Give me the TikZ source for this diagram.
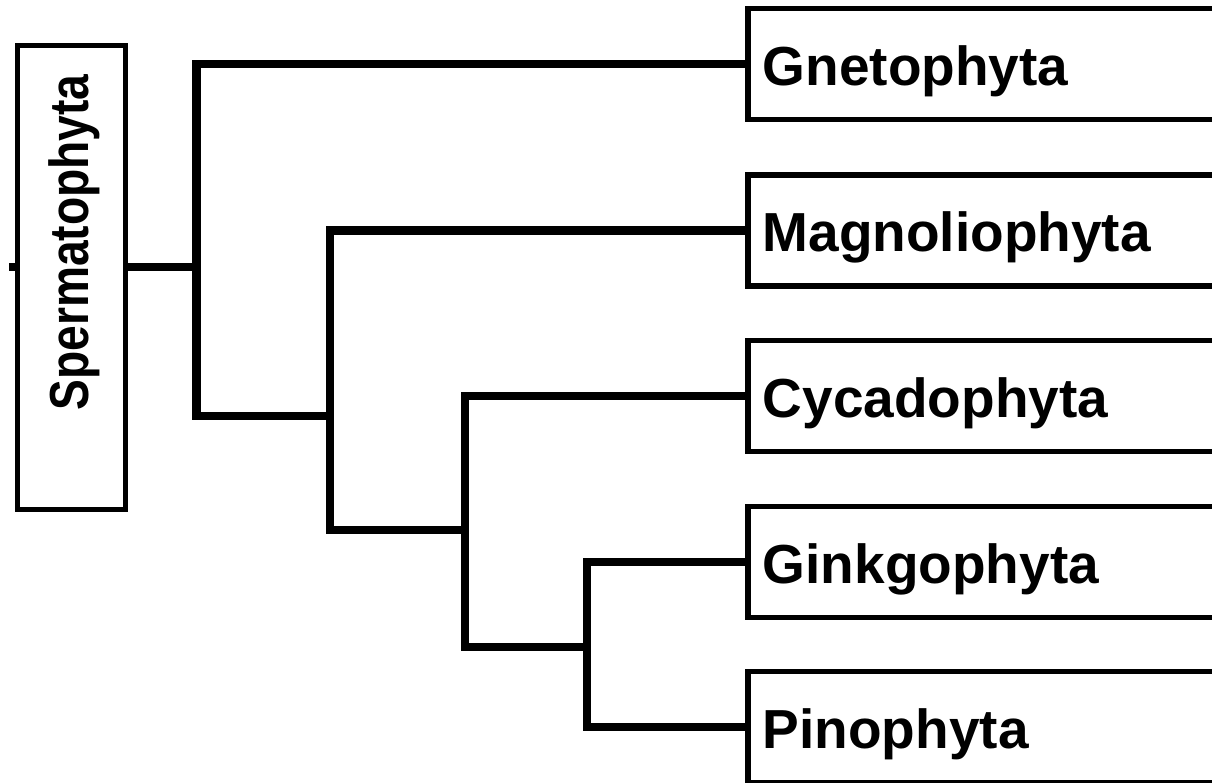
\documentclass[tikz,border=0pt]{standalone}
\usepackage{fontspec}
\setmainfont{Liberation Sans}
\usetikzlibrary{backgrounds}
\begin{document}
\begin{tikzpicture}[x=1pt,y=-1pt,
  taxon/.style={draw, line width=5.5pt, fill=white, anchor=west,
    text width=460pt, inner xsep=15pt, inner ysep=0pt, align=left,
    minimum height=111pt, text height=42pt, text depth=0pt,
    font=\fontsize{55}{60}\selectfont\bfseries},
  clade/.style={draw, line width=5.5pt, fill=white, inner sep=0pt,
    minimum width=108pt, minimum height=464pt},
  branch/.style={line width=8.5pt, line join=miter, line cap=butt}]
\useasboundingbox (0,0) rectangle (1212,783);
\clip (0,0) rectangle (1212,783);

% terminal taxa
\node[taxon] (gn) at (745,64.25) {Gnetophyta};
\node[taxon] (mg) at (745,230.5) {Magnoliophyta};
\node[taxon] (cy) at (745,396) {Cycadophyta};
\node[taxon] (gi) at (745,562) {Ginkgophyta};
\node[taxon] (pi) at (745,727) {Pinophyta};

% root clade label
\node[clade] (sp) at (71.5,277.5) {};
\node[rotate=90, anchor=base, inner sep=0pt,
  font=\fontsize{55}{60}\selectfont\bfseries] (splabel) at (88,242.5)
  {\scalebox{0.84}[1]{Spermatophyta}};

% internal nodes of the tree
\coordinate (root) at (9,267);
\coordinate (n1) at (196.5,267);
\coordinate (n2) at (330,416);
\coordinate (n3) at (465,530);
\coordinate (n4) at (587,647);

\begin{scope}[on background layer]
  \draw[branch] (root) -- (n1);
  \draw[branch] (gn.west) -| (n1) |- (n2);
  \draw[branch] (mg.west) -| (n2) |- (n3);
  \draw[branch] (cy.west) -| (n3) |- (n4);
  \draw[branch] (gi.west) -| (n4) |- (pi.west);
\end{scope}
\end{tikzpicture}
\end{document}
